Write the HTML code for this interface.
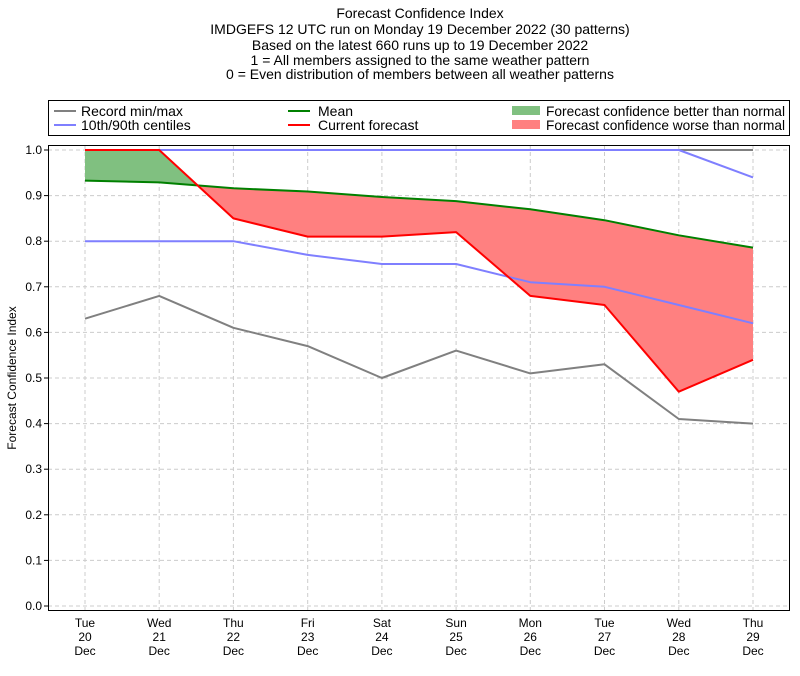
<!DOCTYPE html>
<html><head><meta charset="utf-8"><style>body{margin:0;background:#fff}svg{display:block;font-family:"Liberation Sans","DejaVu Sans",sans-serif}</style></head>
<body>
<svg width="800" height="676" viewBox="0 0 800 676" xmlns="http://www.w3.org/2000/svg">
<g font-size="14" text-anchor="middle" fill="#000">
<text x="420" y="18">Forecast Confidence Index</text>
<text x="420" y="34">IMDGEFS 12 UTC run on Monday 19 December 2022 (30 patterns)</text>
<text x="420" y="50">Based on the latest 660 runs up to 19 December 2022</text>
<text x="420" y="65">1 = All members assigned to the same weather pattern</text>
<text x="420" y="79">0 = Even distribution of members between all weather patterns</text>
</g>
<rect x="48.5" y="100.5" width="741" height="35" fill="#fff" stroke="#000"/>
<g font-size="14">
<line x1="54" y1="111" x2="76" y2="111" stroke="#808080" stroke-width="2"/><text x="81" y="116">Record min/max</text>
<line x1="54" y1="125" x2="76" y2="125" stroke="#7f7fff" stroke-width="2"/><text x="81" y="130">10th/90th centiles</text>
<line x1="288" y1="111" x2="310" y2="111" stroke="#008000" stroke-width="2"/><text x="318" y="116">Mean</text>
<line x1="288" y1="125" x2="310" y2="125" stroke="#f00" stroke-width="2"/><text x="318" y="130">Current forecast</text>
<rect x="512" y="106" width="28" height="9" fill="#80c080"/><text x="546" y="116" textLength="239" lengthAdjust="spacingAndGlyphs">Forecast confidence better than normal</text>
<rect x="512" y="120" width="28" height="9" fill="#ff8080"/><text x="546" y="130" textLength="239" lengthAdjust="spacingAndGlyphs">Forecast confidence worse than normal</text>
</g>
<g stroke="#ccc" stroke-dasharray="4,3" stroke-width="1">
<line x1="48" x2="790" y1="606" y2="606"/><line x1="48" x2="790" y1="560.4" y2="560.4"/><line x1="48" x2="790" y1="514.8" y2="514.8"/><line x1="48" x2="790" y1="469.2" y2="469.2"/><line x1="48" x2="790" y1="423.6" y2="423.6"/><line x1="48" x2="790" y1="378" y2="378"/><line x1="48" x2="790" y1="332.4" y2="332.4"/><line x1="48" x2="790" y1="286.8" y2="286.8"/><line x1="48" x2="790" y1="241.2" y2="241.2"/><line x1="48" x2="790" y1="195.6" y2="195.6"/><line x1="48" x2="790" y1="150" y2="150"/>
<line y1="145" y2="611" x1="85" x2="85"/><line y1="145" y2="611" x1="159.2" x2="159.2"/><line y1="145" y2="611" x1="233.4" x2="233.4"/><line y1="145" y2="611" x1="307.7" x2="307.7"/><line y1="145" y2="611" x1="381.9" x2="381.9"/><line y1="145" y2="611" x1="456.1" x2="456.1"/><line y1="145" y2="611" x1="530.3" x2="530.3"/><line y1="145" y2="611" x1="604.5" x2="604.5"/><line y1="145" y2="611" x1="678.8" x2="678.8"/><line y1="145" y2="611" x1="753" x2="753"/>
</g>
<polygon points="85,150 159.2,150 197.6,185.5 159.2,182.4 85,180.6" fill="#80c080"/>
<polygon points="197.6,185.5 233.4,218.4 307.7,236.6 381.9,236.6 456.1,232.1 530.3,295.9 604.5,305 678.8,391.7 753,359.8 753,247.6 678.8,235.3 604.5,220.2 530.3,209.3 456.1,201.1 381.9,197 307.7,191.5 233.4,188.3" fill="#ff8080"/>
<g fill="none" stroke-width="2" stroke-linejoin="round">
<polyline stroke="#808080" points="85,150 753,150"/>
<polyline stroke="#808080" points="85,318.7 159.2,295.9 233.4,327.8 307.7,346.1 381.9,378 456.1,350.6 530.3,373.4 604.5,364.3 678.8,419 753,423.6"/>
<polyline stroke="#7f7fff" points="85,150 678.8,150 753,177.4"/>
<polyline stroke="#7f7fff" points="85,241.2 233.4,241.2 307.7,254.9 381.9,264 456.1,264 530.3,282.2 604.5,286.8 678.8,305 753,323.3"/>
<polyline stroke="#008000" points="85,180.6 159.2,182.4 233.4,188.3 307.7,191.5 381.9,197 456.1,201.1 530.3,209.3 604.5,220.2 678.8,235.3 753,247.6"/>
<polyline stroke="#f00" points="85,150 159.2,150 233.4,218.4 307.7,236.6 381.9,236.6 456.1,232.1 530.3,295.9 604.5,305 678.8,391.7 753,359.8"/>
</g>
<rect x="48.5" y="145.5" width="741" height="465" fill="none" stroke="#000"/>
<g stroke="#000"><line x1="44" x2="48" y1="606" y2="606"/><line x1="44" x2="48" y1="560.4" y2="560.4"/><line x1="44" x2="48" y1="514.8" y2="514.8"/><line x1="44" x2="48" y1="469.2" y2="469.2"/><line x1="44" x2="48" y1="423.6" y2="423.6"/><line x1="44" x2="48" y1="378" y2="378"/><line x1="44" x2="48" y1="332.4" y2="332.4"/><line x1="44" x2="48" y1="286.8" y2="286.8"/><line x1="44" x2="48" y1="241.2" y2="241.2"/><line x1="44" x2="48" y1="195.6" y2="195.6"/><line x1="44" x2="48" y1="150" y2="150"/></g>
<g font-size="12" text-anchor="end">
<text x="42" y="610">0.0</text><text x="42" y="564.4">0.1</text><text x="42" y="518.8">0.2</text><text x="42" y="473.2">0.3</text><text x="42" y="427.6">0.4</text><text x="42" y="382">0.5</text><text x="42" y="336.4">0.6</text><text x="42" y="290.8">0.7</text><text x="42" y="245.2">0.8</text><text x="42" y="199.6">0.9</text><text x="42" y="154">1.0</text>
</g>
<text transform="translate(16,378) rotate(-90)" font-size="12" text-anchor="middle">Forecast Confidence Index</text>
<g font-size="12" text-anchor="middle">
<text x="85" y="627">Tue</text><text x="85" y="641">20</text><text x="85" y="655">Dec</text>
<text x="159.2" y="627">Wed</text><text x="159.2" y="641">21</text><text x="159.2" y="655">Dec</text>
<text x="233.4" y="627">Thu</text><text x="233.4" y="641">22</text><text x="233.4" y="655">Dec</text>
<text x="307.7" y="627">Fri</text><text x="307.7" y="641">23</text><text x="307.7" y="655">Dec</text>
<text x="381.9" y="627">Sat</text><text x="381.9" y="641">24</text><text x="381.9" y="655">Dec</text>
<text x="456.1" y="627">Sun</text><text x="456.1" y="641">25</text><text x="456.1" y="655">Dec</text>
<text x="530.3" y="627">Mon</text><text x="530.3" y="641">26</text><text x="530.3" y="655">Dec</text>
<text x="604.5" y="627">Tue</text><text x="604.5" y="641">27</text><text x="604.5" y="655">Dec</text>
<text x="678.8" y="627">Wed</text><text x="678.8" y="641">28</text><text x="678.8" y="655">Dec</text>
<text x="753" y="627">Thu</text><text x="753" y="641">29</text><text x="753" y="655">Dec</text>
</g>
</svg>
</body></html>
